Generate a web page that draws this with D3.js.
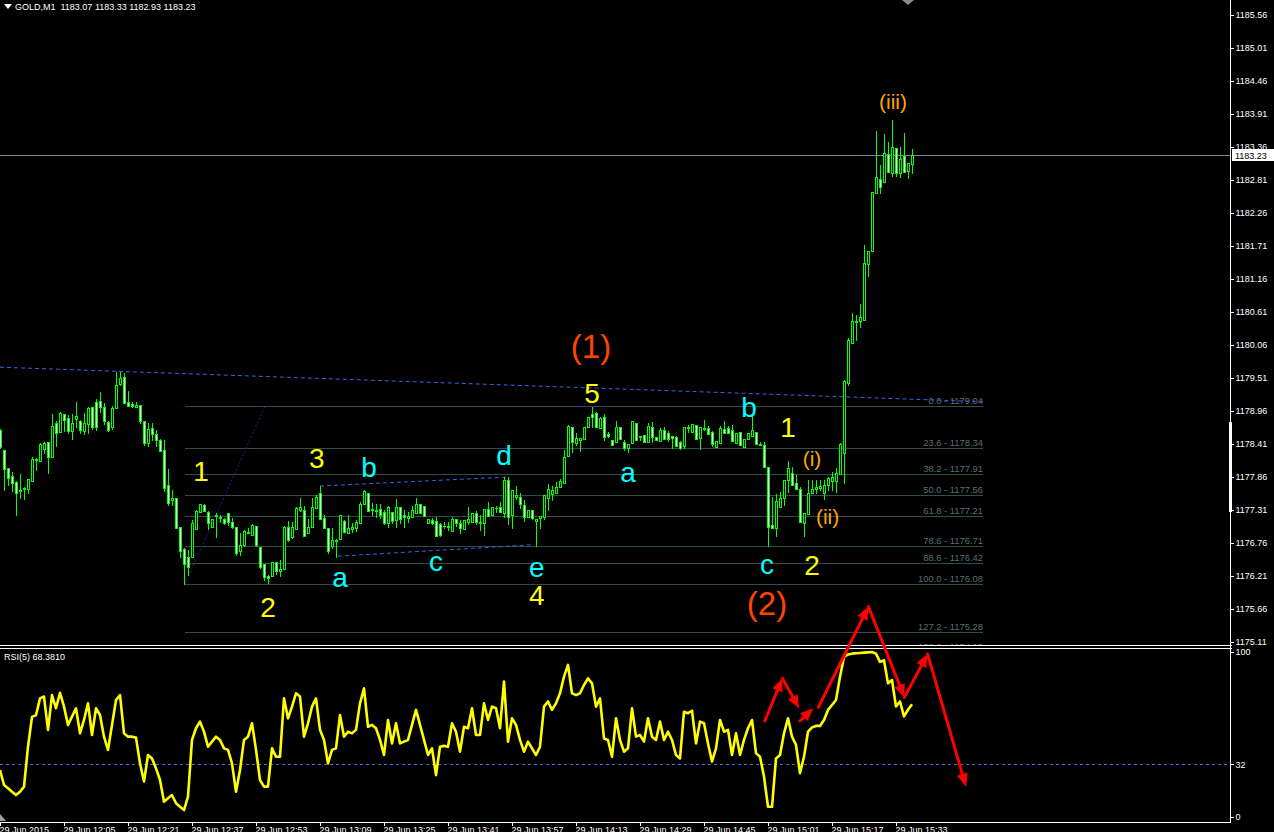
<!DOCTYPE html>
<html><head><meta charset="utf-8">
<script src="https://cdn.jsdelivr.net/npm/d3@7/dist/d3.min.js"></script>
<style>
html,body{margin:0;padding:0;background:#000;overflow:hidden;}
svg{display:block;}
text{font-family:"Liberation Sans",Arial,sans-serif;}
</style></head><body>
<svg id="chart" width="1274" height="832"></svg>
<script>
// ---------------- DATA ----------------
const symbolName = "GOLD,M1";
const openP = [
1178.64,1178.31,1178.01,1177.88,1177.78,1177.64,1177.66,1177.66,1177.79,1178.16,
1178.13,1178.33,1178.44,1178.19,1178.76,1178.61,1178.91,1178.84,1178.63,1178.83,
1178.79,1178.63,1178.74,1179.03,1179.11,1179.13,1179.03,1178.78,1178.69,1179.01,
1179.41,1179.53,1179.11,1179.08,1179.03,1179.06,1178.79,1178.43,1178.68,1178.58,
1178.48,1178.31,1177.73,1177.48,1177.51,1177.03,1176.66,1176.53,1176.53,1176.99,
1177.28,1177.39,1177.28,1177.03,1177.21,1177.19,1177.16,1177.26,1177.11,1177.03,
1176.63,1176.73,1176.93,1176.89,1177.04,1176.69,1176.41,1176.21,1176.21,1176.44,
1176.29,1176.33,1177.03,1176.86,1176.99,1177.31,1177.31,1176.93,1177.03,1177.34,
1177.59,1177.18,1177.01,1176.71,1176.81,1176.83,1177.13,1176.93,1176.99,1177.01,
1177.09,1177.41,1177.59,1177.33,1177.31,1177.33,1177.28,1177.09,1177.28,1177.14,
1177.36,1177.23,1177.18,1177.19,1177.26,1177.41,1177.38,1177.09,1177.14,1177.13,
1177.08,1177.04,1177.04,1176.96,1177.16,1177.09,1176.99,1177.11,1177.11,1177.26,
1177.11,1177.09,1177.33,1177.23,1177.34,1177.36,1177.26,1177.81,1177.23,1177.53,
1177.53,1177.39,1177.19,1177.31,1177.13,1177.18,1177.19,1177.51,1177.58,1177.59,
1177.69,1177.76,1178.21,1178.69,1178.43,1178.48,1178.49,1178.69,1178.91,1178.93,
1178.68,1178.86,1178.58,1178.48,1178.44,1178.69,1178.44,1178.34,1178.43,1178.76,
1178.53,1178.56,1178.44,1178.69,1178.53,1178.46,1178.64,1178.59,1178.54,1178.53,
1178.44,1178.38,1178.69,1178.61,1178.73,1178.51,1178.66,1178.68,1178.61,1178.36,
1178.43,1178.66,1178.68,1178.64,1178.43,1178.61,1178.36,1178.49,1178.54,1178.61,
1178.41,1178.39,1178.03,1177.06,1177.01,1177.36,1177.51,1177.81,1177.93,1177.76,
1177.66,1177.09,1177.24,1177.59,1177.66,1177.68,1177.59,1177.73,1177.79,1177.79,
1177.91,1178.26,1179.43,1180.09,1180.44,1180.46,1180.48,1181.41,1181.63,1182.59,
1182.83,1182.78,1183.24,1182.93,1183.34,1182.93,1183.21,1182.96,1183.07];
const highP = [
1178.66,1178.31,1178.01,1177.94,1177.79,1177.91,1177.69,1177.83,1178.19,1178.17,
1178.43,1178.44,1178.44,1178.91,1178.79,1178.94,1178.91,1178.89,1178.91,1179.11,
1178.81,1178.93,1179.03,1179.03,1179.16,1179.28,1179.09,1178.79,1179.04,1179.61,
1179.61,1179.59,1179.29,1179.11,1179.11,1179.06,1178.79,1178.76,1178.76,1178.64,
1178.49,1178.48,1177.99,1177.64,1177.51,1177.03,1176.68,1176.64,1177.14,1177.31,
1177.41,1177.41,1177.29,1177.16,1177.26,1177.23,1177.18,1177.26,1177.18,1177.03,
1176.93,1176.98,1177.01,1177.08,1177.04,1176.69,1176.41,1176.23,1176.44,1176.44,
1176.48,1177.04,1177.13,1177.11,1177.36,1177.51,1177.38,1177.16,1177.51,1177.56,
1177.71,1177.23,1177.01,1177.01,1176.82,1177.23,1177.14,1177.23,1177.09,1177.14,
1177.44,1177.64,1177.59,1177.43,1177.41,1177.41,1177.31,1177.38,1177.28,1177.49,
1177.36,1177.31,1177.28,1177.38,1177.51,1177.41,1177.38,1177.16,1177.18,1177.19,
1177.09,1177.11,1177.11,1177.19,1177.16,1177.14,1177.14,1177.36,1177.26,1177.29,
1177.23,1177.33,1177.44,1177.36,1177.38,1177.44,1177.86,1177.86,1177.64,1177.71,
1177.59,1177.48,1177.31,1177.31,1177.16,1177.21,1177.56,1177.74,1177.71,1177.78,
1177.83,1178.31,1178.73,1178.69,1178.59,1178.51,1178.69,1178.86,1179.03,1178.94,
1178.86,1178.91,1178.61,1178.48,1178.79,1178.69,1178.48,1178.41,1178.79,1178.76,
1178.55,1178.56,1178.76,1178.78,1178.53,1178.68,1178.69,1178.63,1178.54,1178.54,
1178.46,1178.69,1178.73,1178.74,1178.73,1178.69,1178.81,1178.71,1178.63,1178.46,
1178.71,1178.79,1178.71,1178.73,1178.59,1178.61,1178.49,1178.59,1178.89,1178.61,
1178.44,1178.44,1178.03,1177.53,1177.58,1177.61,1177.81,1178.13,1178.03,1177.89,
1177.69,1177.26,1177.81,1177.81,1177.81,1177.81,1177.81,1177.86,1177.94,1178.01,
1178.43,1179.48,1180.18,1180.59,1180.56,1180.74,1181.73,1181.63,1182.61,1183.63,
1183.06,1183.58,1183.44,1183.81,1183.34,1183.36,1183.59,1183.09,1183.33];
const lowP = [
1178.34,1177.64,1177.73,1177.63,1177.23,1177.51,1177.49,1177.59,1177.79,1177.98,
1178.13,1178.26,1177.93,1178.19,1178.38,1178.61,1178.63,1178.59,1178.49,1178.69,
1178.59,1178.58,1178.59,1178.66,1178.64,1178.94,1178.74,1178.63,1178.66,1179.01,
1179.39,1179.09,1179.04,1179.03,1179.03,1178.76,1178.39,1178.38,1178.48,1178.38,
1178.29,1177.63,1177.39,1177.39,1177.01,1176.53,1176.08,1176.23,1176.53,1176.99,
1177.28,1177.29,1176.99,1177.03,1176.86,1177.11,1177.08,1177.06,1177.01,1176.56,
1176.56,1176.71,1176.93,1176.89,1176.71,1176.34,1176.14,1176.09,1176.21,1176.24,
1176.21,1176.33,1176.79,1176.84,1176.99,1177.29,1176.88,1176.93,1177.03,1177.34,
1177.16,1177.01,1176.59,1176.68,1176.53,1176.83,1176.94,1176.93,1176.94,1176.96,
1177.09,1177.41,1177.29,1177.23,1177.19,1177.18,1177.08,1177.03,1177.09,1177.03,
1177.09,1177.03,1177.11,1177.19,1177.26,1177.26,1177.21,1177.09,1177.08,1176.88,
1176.88,1177.01,1176.98,1176.96,1177.04,1176.93,1176.99,1177.08,1177.11,1177.08,
1176.98,1176.89,1177.21,1177.23,1177.28,1177.28,1177.19,1177.08,1177.01,1177.49,
1177.34,1177.13,1177.19,1177.16,1176.71,1177.01,1177.16,1177.31,1177.48,1177.59,
1177.69,1177.76,1178.21,1178.28,1178.39,1178.29,1178.49,1178.69,1178.69,1178.69,
1178.68,1178.48,1178.53,1178.39,1178.44,1178.49,1178.31,1178.28,1178.43,1178.48,
1178.48,1178.44,1178.44,1178.44,1178.48,1178.46,1178.49,1178.46,1178.34,1178.38,
1178.33,1178.34,1178.61,1178.61,1178.49,1178.33,1178.64,1178.58,1178.38,1178.36,
1178.43,1178.59,1178.59,1178.46,1178.43,1178.39,1178.36,1178.49,1178.54,1178.41,
1178.39,1178.03,1176.71,1177.01,1176.88,1177.36,1177.39,1177.61,1177.73,1177.66,
1177.11,1176.88,1177.24,1177.59,1177.59,1177.64,1177.49,1177.64,1177.64,1177.61,
1177.91,1177.76,1179.39,1180.09,1180.14,1180.36,1180.48,1181.21,1181.63,1182.59,
1182.59,1182.78,1182.94,1182.88,1182.88,1182.86,1182.94,1182.84,1182.93];
const closeP = [
1178.36,1177.99,1177.84,1177.76,1177.59,1177.63,1177.68,1177.83,1178.16,1178.15,
1178.41,1178.43,1178.19,1178.71,1178.59,1178.93,1178.81,1178.63,1178.76,1178.88,
1178.64,1178.76,1179.01,1178.69,1178.69,1179.03,1178.79,1178.64,1179.01,1179.39,
1179.51,1179.09,1179.04,1179.04,1179.06,1178.79,1178.43,1178.66,1178.58,1178.48,
1178.29,1177.68,1177.43,1177.51,1177.01,1176.63,1176.41,1176.36,1177.09,1177.29,
1177.41,1177.29,1177.09,1177.16,1177.23,1177.18,1177.09,1177.11,1177.03,1176.59,
1176.73,1176.96,1176.94,1177.06,1176.73,1176.36,1176.19,1176.18,1176.44,1176.29,
1176.33,1177.03,1176.81,1177.03,1177.34,1177.36,1176.88,1177.03,1177.36,1177.53,
1177.16,1177.01,1176.63,1176.81,1176.80,1177.23,1176.94,1177.01,1177.03,1177.11,
1177.41,1177.63,1177.29,1177.31,1177.29,1177.23,1177.09,1177.36,1177.13,1177.36,
1177.16,1177.19,1177.21,1177.31,1177.41,1177.26,1177.21,1177.16,1177.09,1176.88,
1176.89,1177.05,1177.03,1177.16,1177.09,1177.01,1177.14,1177.16,1177.26,1177.11,
1177.10,1177.33,1177.21,1177.36,1177.35,1177.28,1177.81,1177.19,1177.64,1177.56,
1177.41,1177.19,1177.31,1177.18,1177.16,1177.21,1177.56,1177.66,1177.64,1177.69,
1177.79,1178.19,1178.71,1178.44,1178.51,1178.51,1178.69,1178.86,1178.86,1178.69,
1178.84,1178.53,1178.54,1178.39,1178.69,1178.49,1178.34,1178.41,1178.79,1178.48,
1178.54,1178.44,1178.71,1178.53,1178.48,1178.64,1178.49,1178.49,1178.51,1178.38,
1178.34,1178.69,1178.68,1178.74,1178.49,1178.69,1178.68,1178.58,1178.41,1178.46,
1178.68,1178.59,1178.59,1178.46,1178.59,1178.39,1178.49,1178.59,1178.64,1178.41,
1178.39,1178.03,1177.03,1177.01,1177.46,1177.51,1177.81,1178.01,1177.73,1177.66,
1177.11,1177.26,1177.59,1177.66,1177.69,1177.71,1177.73,1177.84,1177.86,1177.93,
1178.41,1179.46,1180.14,1180.46,1180.46,1180.53,1181.43,1181.63,1182.61,1182.86,
1182.69,1183.26,1182.94,1183.36,1182.93,1183.16,1182.94,1183.09,1183.23];
const rsiValues = [
28.5,19.4,17.4,15.3,13.3,15.3,18.4,42.6,60.7,61.7,
71.9,73,52.8,73.9,65.9,75.3,66.9,55.8,60.8,65.9,
50.7,58.8,68.9,49.7,65.9,61.8,48.7,40.7,55.8,70.9,
73.9,50.7,48.7,48.7,48.1,32.5,21.5,37.6,35.5,29.5,
22.4,9.3,11.3,13.3,8.3,6.2,4.2,12.3,46.7,53.8,
57.8,51.7,42.6,45.7,48.7,46.7,41.6,40.7,32.5,15.3,
28.5,46.7,48.7,56.8,40.7,22.4,18.4,18.4,41.6,36.5,
36.5,71.9,59.8,66.9,75,73,48.7,56.8,66.9,71.9,
52.8,46.7,32.5,40.7,41.6,61.8,48.7,51.7,50.7,52.8,
68.9,78,54.7,55.8,53.8,46.7,37.6,58.8,44.6,56.8,
44.6,45.7,46.7,55.8,64.9,55.8,46.7,37.6,41.6,25.4,
42.6,43.1,42.6,56.8,51.7,39.6,54.7,53.8,65.9,49.7,
49.7,68.9,58.8,66.9,65.9,53.8,82.1,45.7,59.8,55.8,
46.7,39.6,45.7,41.6,37.6,42.6,66.9,70,64.9,68.9,
75,85.1,92.2,75,73.9,75,80,84,81,66.9,
71.9,47.6,46.7,36.5,59.8,46.7,39.6,41.6,65.9,48.7,
49.7,45.7,59.8,48.7,46.7,57.8,46.7,51.7,46.7,37.6,
35.5,63.8,62.9,64.4,44.6,57.8,56.8,44.6,33.6,41.6,
58.8,51.7,52.8,37.6,50.7,37.6,46.7,53.8,58.8,38.6,
36.5,24.5,6.2,6.2,35.5,37.6,50.7,59.8,48.7,43.7,
26.5,36.5,51.7,54.3,55.2,55.2,58.8,64.9,67.9,70.9,
85,97,98.5,99,99.2,99.4,99.6,99.8,100,99,
94,95,81,83,67,70,61,65,68.381];
const rsiPeriod = 5;
const rsiLevel = 32;
const rsiTicks = [100, 32, 0];

const priceTicks = [1185.56,1185.01,1184.46,1183.91,1183.36,1182.81,1182.26,1181.71,1181.16,1180.61,
  1180.06,1179.51,1178.96,1178.41,1177.86,1177.31,1176.76,1176.21,1175.66,1175.11];
const timeTickBars = [0,16,32,48,64,80,96,112,128,144,160,176,192,208,224];
const timeTickLabels = ["29 Jun 2015","29 Jun 12:05","29 Jun 12:21","29 Jun 12:37","29 Jun 12:53",
  "29 Jun 13:09","29 Jun 13:25","29 Jun 13:41","29 Jun 13:57","29 Jun 14:13","29 Jun 14:29",
  "29 Jun 14:45","29 Jun 15:01","29 Jun 15:17","29 Jun 15:33"];

// Fibonacci retracement
const fibLevels = [0.0, 23.6, 38.2, 50.0, 61.8, 78.6, 88.6, 100.0, 127.2, 138.2];
const fibPrices = [1179.04,1178.34,1177.91,1177.56,1177.21,1176.71,1176.42,1176.08,1175.28,1174.95];
const fibAnchorBars = [46.25, 66.25];
const fibAnchorPrices = [1176.08, 1179.04];
const fibEndBar = 245.75;

// dashed trend lines
const trendStartBar = [0, 80, 84.5];
const trendStartPrice = [1179.69, 1177.71, 1176.54];
const trendEndBar = [245.75, 127, 133];
const trendEndPrice = [1179.115, 1177.86, 1176.73];

// wave labels
const waveText  = ["1","2","3","a","b","c","d","e","4","5","(1)","a","b","1","(i)","(ii)","c","2","(2)","(iii)"];
const waveBar   = [50.25,67,79.2,85,92.25,109,126,134.2,134.2,148,147.75,157,187.25,197,203,206.9,191.75,203,191.75,223.25];
const wavePrice = [1177.79,1175.53,1178.01,1176.03,1177.86,1176.29,1178.06,1176.19,1175.73,1179.09,1179.84,1177.78,1178.86,1178.53,1178.04,1177.08,1176.24,1176.23,1175.56,1184.0];

// red arrows (bar index, RSI-window value)
const arrowStartBar = [191.2, 195.6, 200, 204.6, 217.1, 226.1, 231.9];
const arrowStartVal = [58.2, 84.1, 58.2, 66.5, 127.5, 72.5, 98.8];
const arrowEndBar   = [195.6, 199.8, 203.3, 217.1, 226.1, 231.9, 241.5];
const arrowEndVal   = [84.1, 65.9, 65.9, 127.5, 72.5, 98.8, 18.4];

// ---------------- DRAW ----------------
const svg = d3.select('#chart');
svg.append('rect').attr('width',1274).attr('height',832).attr('fill','#000');

const PLOT_R = 1230, MAIN_B = 645, RSI_T = 649, RSI_B = 821;
const x = d3.scaleLinear().domain([0, 307.5]).range([0, PLOT_R]);
const y = d3.scaleLinear().domain([1175.06, 1185.81]).range([MAIN_B, 0]);
const yr = d3.scaleLinear().domain([0, 100]).range([817, 652]);
const px = v => Math.round(v) + 0.5;

const defs = svg.append('defs');
defs.append('clipPath').attr('id','clipMain').append('rect')
  .attr('x',0).attr('y',0).attr('width',PLOT_R).attr('height',MAIN_B);
defs.append('clipPath').attr('id','clipRsi').append('rect')
  .attr('x',0).attr('y',RSI_T).attr('width',PLOT_R).attr('height',RSI_B-RSI_T);

const main = svg.append('g').attr('clip-path','url(#clipMain)');

// fib levels
const fibG = main.append('g');
fibLevels.forEach((lv,i)=>{
  const yy = px(y(fibPrices[i]));
  fibG.append('line').attr('x1',x(fibAnchorBars[0])).attr('x2',x(fibEndBar))
    .attr('y1',yy).attr('y2',yy).attr('stroke','#2f4f4f').attr('stroke-width',1)
    .attr('shape-rendering','crispEdges');
  fibG.append('text').attr('x',x(fibEndBar)).attr('y',yy-2.5).attr('text-anchor','end')
    .attr('font-size','9.4px').attr('fill','#587272')
    .text(lv.toFixed(1)+' - '+fibPrices[i].toFixed(2));
});
// fib anchor diagonal (dotted)
main.append('line')
  .attr('x1',x(fibAnchorBars[0])).attr('y1',y(fibAnchorPrices[0]))
  .attr('x2',x(fibAnchorBars[1])).attr('y2',y(fibAnchorPrices[1]))
  .attr('stroke','#20209a').attr('stroke-width',1).attr('stroke-dasharray','2,2');

// dashed trend lines
trendStartBar.forEach((b,i)=>{
  main.append('line')
    .attr('x1',x(b)).attr('y1',y(trendStartPrice[i]))
    .attr('x2',x(trendEndBar[i])).attr('y2',y(trendEndPrice[i]))
    .attr('stroke','#3d62e8').attr('stroke-width',1).attr('stroke-dasharray','4,3');
});

// current price line
const lastIdx = closeP.length-1;
const lastY = px(y(closeP[lastIdx]));
main.append('line').attr('x1',0).attr('x2',PLOT_R).attr('y1',lastY).attr('y2',lastY)
  .attr('stroke','#778899').attr('stroke-width',1).attr('shape-rendering','crispEdges');

// candles
const cg = main.append('g').attr('shape-rendering','crispEdges');
openP.forEach((o,i)=>{
  const c = closeP[i], h = highP[i], l = lowP[i];
  const cx = Math.round(x(i));
  cg.append('line').attr('x1',cx+0.5).attr('x2',cx+0.5)
    .attr('y1',Math.round(y(h))).attr('y2',Math.round(y(l))+1)
    .attr('stroke','#00ff00').attr('stroke-width',1);
  const yt = Math.round(y(Math.max(o,c))), yb = Math.round(y(Math.min(o,c)));
  if (yb - yt < 1) {
    cg.append('line').attr('x1',cx-1).attr('x2',cx+2).attr('y1',yt+0.5).attr('y2',yt+0.5)
      .attr('stroke','#00ff00').attr('stroke-width',1);
  } else {
    cg.append('rect').attr('x',cx-0.5).attr('y',yt+0.5).attr('width',2).attr('height',yb-yt)
      .attr('fill', c >= o ? '#000000' : '#ffffff').attr('stroke','#00ff00').attr('stroke-width',1);
  }
});

// wave labels
function waveStyle(t){
  if (/^\(\d\)$/.test(t)) return {fill:'#ff4500', size:33};
  if (/^\([ivx]+\)$/.test(t)) return {fill:'#ffa500', size:21};
  if (/^\d$/.test(t)) return {fill:'#ffff00', size:28};
  return {fill:'#00ffff', size:28};
}
waveText.forEach((t,i)=>{
  const st = waveStyle(t);
  main.append('text').attr('x',x(waveBar[i])).attr('y',y(wavePrice[i]))
    .attr('text-anchor','middle').attr('font-size',st.size+'px').attr('fill',st.fill).text(t);
});

// title
svg.append('polygon').attr('points','4,4 12,4 8,9').attr('fill','#fff');
svg.append('text').attr('x',15).attr('y',10).attr('font-size','9px').attr('fill','#fff')
  .style('white-space','pre')
  .text(symbolName+'  '+[openP[lastIdx],highP[lastIdx],lowP[lastIdx],closeP[lastIdx]].map(v=>v.toFixed(2)).join(' '));

// top shift marker
svg.append('polygon').attr('points','902,0 914,0 908,5').attr('fill','#8a8a8a');

// separators
[645.5, 648.5].forEach(yy=>{
  svg.append('line').attr('x1',0).attr('x2',PLOT_R+2).attr('y1',yy).attr('y2',yy)
    .attr('stroke','#fff').attr('stroke-width',1).attr('shape-rendering','crispEdges');
});

// price axis
const pAxis = d3.axisRight(y).tickValues(priceTicks).tickSize(3).tickSizeOuter(0).tickPadding(2)
  .tickFormat(d3.format('.2f'));
const pa = svg.append('g').attr('transform',`translate(${PLOT_R+0.5},0)`).call(pAxis);
pa.select('.domain').remove();
pa.selectAll('line').attr('stroke','#fff').attr('shape-rendering','crispEdges');
pa.selectAll('text').attr('fill','#fff').attr('font-size','9px').attr('font-family','Liberation Sans, Arial, sans-serif');

// rsi axis
const rAxis = d3.axisRight(yr).tickValues(rsiTicks).tickSize(3).tickSizeOuter(0).tickPadding(2)
  .tickFormat(d3.format('d'));
const ra = svg.append('g').attr('transform',`translate(${PLOT_R+0.5},0)`).call(rAxis);
ra.select('.domain').remove();
ra.selectAll('line').attr('stroke','#fff').attr('shape-rendering','crispEdges');
ra.selectAll('text').attr('fill','#fff').attr('font-size','9px').attr('font-family','Liberation Sans, Arial, sans-serif');

// right vertical line
svg.append('line').attr('x1',PLOT_R+0.5).attr('x2',PLOT_R+0.5).attr('y1',0).attr('y2',RSI_B+0.5)
  .attr('stroke','#fff').attr('stroke-width',1).attr('shape-rendering','crispEdges');
svg.append('rect').attr('x',PLOT_R-1).attr('y',422).attr('width',3).attr('height',90).attr('fill','#fff');

// current price label box
svg.append('rect').attr('x',PLOT_R+2).attr('y',lastY-6.5).attr('width',42).attr('height',12).attr('fill','#fff');
svg.append('text').attr('x',PLOT_R+5).attr('y',lastY+3.5).attr('font-size','9px').attr('fill','#000')
  .text(closeP[lastIdx].toFixed(2));

// time axis
const tAxis = d3.axisBottom(x).tickValues(timeTickBars).tickSize(4).tickSizeOuter(0).tickPadding(1)
  .tickFormat((d,i)=>timeTickLabels[i]);
const ta = svg.append('g').attr('transform',`translate(0,${RSI_B+0.5})`).call(tAxis);
ta.select('.domain').attr('stroke','#fff').attr('shape-rendering','crispEdges');
ta.selectAll('line').attr('stroke','#fff').attr('shape-rendering','crispEdges');
ta.selectAll('text').attr('fill','#fff').attr('font-size','9px').attr('text-anchor','start')
  .attr('x',-1).attr('font-family','Liberation Sans, Arial, sans-serif');

// RSI panel
const rsiG = svg.append('g').attr('clip-path','url(#clipRsi)');
const lvY = px(yr(rsiLevel));
rsiG.append('line').attr('x1',0).attr('x2',PLOT_R).attr('y1',lvY).attr('y2',lvY)
  .attr('stroke','#4a6cd4').attr('stroke-width',1).attr('stroke-dasharray','3,3')
  .attr('shape-rendering','crispEdges');
rsiG.append('path').datum(rsiValues)
  .attr('d', d3.line().x((d,i)=>x(i)).y(d=>yr(d)))
  .attr('fill','none').attr('stroke','#ffff00').attr('stroke-width',2.6).attr('stroke-linejoin','round');
svg.append('text').attr('x',4).attr('y',660).attr('font-size','9px').attr('fill','#fff')
  .text('RSI('+rsiPeriod+') '+rsiValues[rsiValues.length-1].toFixed(4));
svg.append('polygon').attr('points','0,814 0,821 6,821').attr('fill','#9aa0a8');

// arrows
const ag = svg.append('g');
arrowStartBar.forEach((b,i)=>{
  const x1 = x(b), y1 = yr(arrowStartVal[i]), x2 = x(arrowEndBar[i]), y2 = yr(arrowEndVal[i]);
  const dx = x2-x1, dy = y2-y1, len = Math.hypot(dx,dy), ux = dx/len, uy = dy/len;
  const hl = 13, hw = 5.5;
  const bx = x2-ux*hl, by = y2-uy*hl;
  ag.append('line').attr('x1',x1).attr('y1',y1).attr('x2',bx+ux*2).attr('y2',by+uy*2)
    .attr('stroke','#ff0000').attr('stroke-width',3).attr('stroke-linecap','round');
  ag.append('path').attr('d',`M${x2},${y2}L${bx-uy*hw},${by+ux*hw}L${bx+uy*hw},${by-ux*hw}Z`)
    .attr('fill','#ff0000');
});
</script>
</body></html>
